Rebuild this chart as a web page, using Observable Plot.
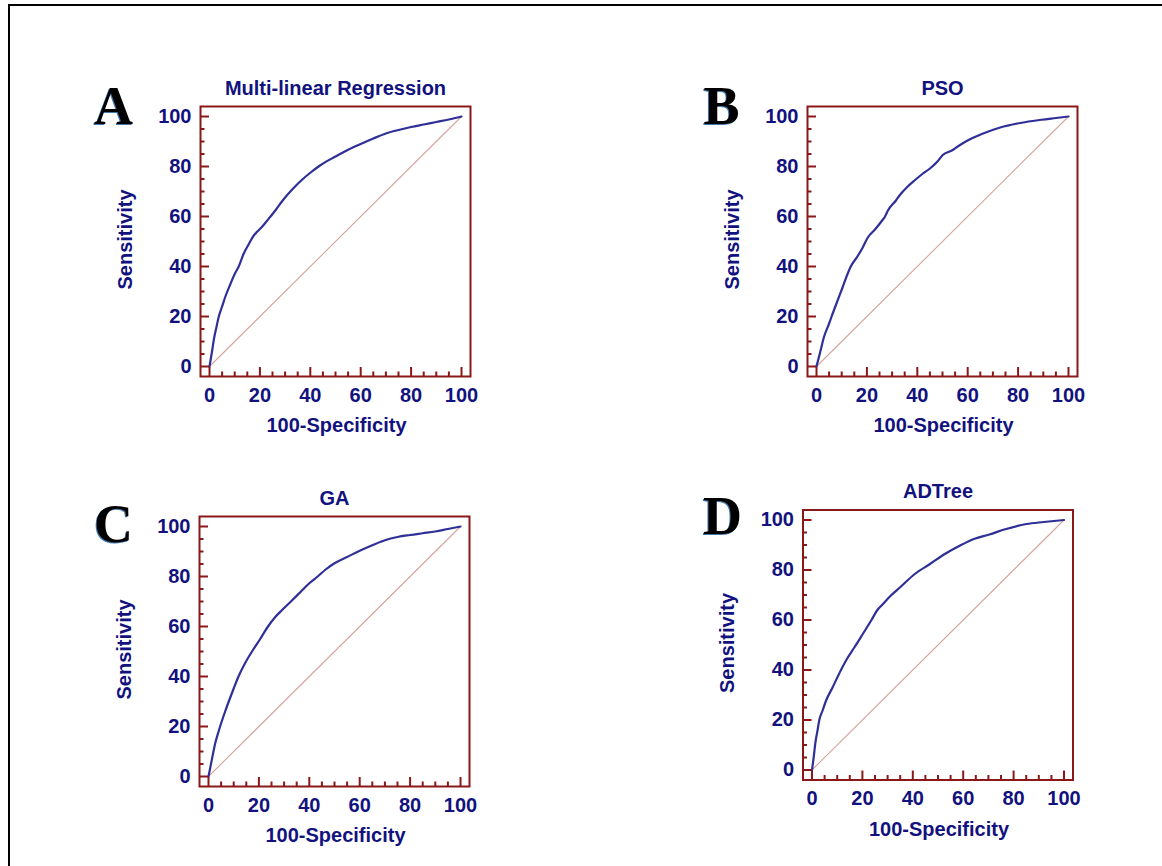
<!DOCTYPE html>
<html><head><meta charset="utf-8">
<script src="https://cdn.jsdelivr.net/npm/d3@7"></script>
<script src="https://cdn.jsdelivr.net/npm/@observablehq/plot@0.6"></script>
<style>
html,body{margin:0;padding:0;background:#fff;overflow:hidden;}
#page{position:relative;width:1162px;height:866px;overflow:hidden;}
#border{position:absolute;left:8px;top:4px;width:1200px;height:900px;border-left:2px solid #000;border-top:2px solid #000;}
.panel{position:absolute;}
</style></head><body><div id="page"><div id="border"></div></div>
<script>
// ---- data ----
const panelTitles = ["Multi-linear Regression", "PSO", "GA", "ADTree"];
const panelLetters = ["A", "B", "C", "D"];
const xLabel = "100-Specificity";
const yLabel = "Sensitivity";
const majorTicks = [0, 20, 40, 60, 80, 100];
const minorTicks = [5, 10, 15, 25, 30, 35, 45, 50, 55, 65, 70, 75, 85, 90, 95];
const diagonalX = [0, 100];
const diagonalY = [0, 100];

const mlrFpr = [0, 0.5, 1, 1.7, 2.7, 3.7, 5, 6.3, 8.3, 10, 11.6, 13.5, 15.6, 17.5, 19, 20.5, 22.2, 24.2, 26.2, 29.5, 33, 36.5, 40, 44, 50, 55, 60, 65, 70, 75, 80, 85, 90, 95, 100];
const mlrTpr = [0, 3, 6, 10.6, 15.5, 20, 24, 28, 33, 37, 40, 45, 49, 52.3, 54, 55.5, 57.5, 60, 62.5, 67, 71, 74.5, 77.5, 80.5, 84, 86.7, 89, 91.2, 93.2, 94.6, 95.8, 96.8, 97.8, 98.8, 100];

const psoFpr = [0, 1.6, 2.9, 4.9, 6.0, 8.3, 10.3, 12, 13.6, 16.3, 18.3, 20.3, 23.2, 25.6, 27.2, 28.3, 31.6, 33.1, 36, 39, 42, 44.9, 48, 50.1, 53.7, 56.5, 59.6, 65.6, 72.9, 80.3, 89.2, 95, 100];
const psoTpr = [0, 6.3, 11.6, 16.9, 20, 26.2, 31.5, 36.2, 40, 44.1, 47.5, 51.5, 54.8, 57.8, 60, 62.3, 66.5, 68.6, 71.8, 74.5, 77, 79.1, 82, 84.6, 86.4, 88.3, 90.2, 93, 95.6, 97.3, 98.7, 99.4, 100];

const gaFpr = [0, 1.3, 2.6, 4, 4.6, 6.6, 8.6, 10, 11.9, 14.6, 17.9, 20.5, 23.6, 26.5, 29.1, 33, 36.5, 40, 43.3, 46.5, 50, 55, 60, 65, 70, 75, 80, 85, 90, 95, 100];
const gaTpr = [0, 6.6, 13, 18, 20, 26, 31.5, 35.2, 40, 45.5, 51, 55, 60, 63.8, 66.5, 70.3, 73.8, 77.3, 80, 82.8, 85.3, 87.8, 90.3, 92.5, 94.5, 95.8, 96.6, 97.3, 98, 99, 100];

const adtFpr = [0, 0.7, 1.3, 2.2, 2.9, 4.2, 5.6, 8.2, 11.5, 14.2, 16.8, 20.1, 23.6, 26.1, 27.6, 31, 35, 40.9, 46.8, 52.7, 58.6, 64.5, 70.4, 76.3, 85.1, 92, 100];
const adtTpr = [0, 5.3, 10.6, 15.9, 20, 23.8, 27.8, 33.1, 40, 45, 49, 54.3, 60, 64.2, 65.8, 69.5, 73.1, 78.5, 82.4, 86.4, 89.7, 92.5, 94.2, 96.2, 98.4, 99.2, 100];

const seriesX = [mlrFpr, psoFpr, gaFpr, adtFpr];
const seriesY = [mlrTpr, psoTpr, gaTpr, adtTpr];

// ---- layout / style ----
const layout = [
  {left: 0,   top: 0,   w: 581, h: 440, fl: 200,   ft: 106,  letterDx: -87,   letterDy: 17.5},
  {left: 581, top: 0,   w: 581, h: 440, fl: 226,   ft: 106,  letterDx: -86,   letterDy: 17.5},
  {left: 0,   top: 440, w: 581, h: 426, fl: 199,   ft: 76,   letterDx: -86,   letterDy: 25},
  {left: 581, top: 440, w: 581, h: 426, fl: 221.5, ft: 69.5, letterDx: -80.5, letterDy: 23.5}
];
const FS = 270;
const maroon = "#8a1818";
const navy = "#12127e";
const curveBlue = "#2f2f98";
const diagPink = "#d6a39b";
const sans = "'Liberation Sans', Arial, sans-serif";
const serif = "'Liberation Serif', 'Times New Roman', serif";

const page = document.getElementById("page");

layout.forEach((L, i) => {
  const rows = seriesX[i].map((x, j) => ({x, y: seriesY[i][j]}));
  const diag = diagonalX.map((x, j) => ({x, y: diagonalY[j]}));
  const plot = Plot.plot({
    width: L.w,
    height: L.h,
    marginLeft: L.fl,
    marginTop: L.ft,
    marginRight: L.w - L.fl - FS,
    marginBottom: L.h - L.ft - FS,
    x: {domain: [-3.571, 103.571]},
    y: {domain: [-4, 104]},
    style: {background: "transparent", overflow: "visible", fontFamily: sans},
    marks: [
      Plot.line(diag, {x: "x", y: "y", stroke: diagPink, strokeWidth: 1.1}),
      Plot.line(rows, {x: "x", y: "y", stroke: curveBlue, strokeWidth: 2.2, strokeLinejoin: "round", curve: "monotone-x"}),
      Plot.frame({stroke: maroon, strokeWidth: 2}),
      Plot.axisY(majorTicks, {anchor: "left", tickSize: 9, dx: 9, stroke: maroon, strokeWidth: 2, fill: "none", label: null}),
      Plot.axisY(minorTicks, {anchor: "left", tickSize: 4.5, dx: 4.5, stroke: maroon, strokeWidth: 2, fill: "none", label: null}),
      Plot.axisX(majorTicks, {anchor: "bottom", tickSize: 9, dy: -9, stroke: maroon, strokeWidth: 2, fill: "none", label: null}),
      Plot.axisX(minorTicks, {anchor: "bottom", tickSize: 4.5, dy: -4.5, stroke: maroon, strokeWidth: 2, fill: "none", label: null}),
      Plot.axisY(majorTicks, {anchor: "left", tickSize: 0, tickPadding: 9, fill: navy, fontSize: 20, fontWeight: "bold", fontFamily: sans, label: null}),
      Plot.axisX(majorTicks, {anchor: "bottom", tickSize: 0, tickPadding: 11, fill: navy, fontSize: 20, fontWeight: "bold", fontFamily: sans, label: null}),
      Plot.text([panelTitles[i]], {frameAnchor: "top", dy: -12, lineAnchor: "bottom", fill: navy, fontSize: 20, fontWeight: "bold", fontFamily: sans}),
      Plot.text([xLabel], {frameAnchor: "bottom", dy: 55.7, dx: 1, lineAnchor: "bottom", fill: navy, fontSize: 20, fontWeight: "bold", fontFamily: sans}),
      Plot.text([yLabel], {frameAnchor: "left", dx: -69, dy: -2, rotate: -90, lineAnchor: "bottom", textAnchor: "middle", fill: navy, fontSize: 20, fontWeight: "bold", fontFamily: sans}),
      Plot.text([panelLetters[i]], {frameAnchor: "top-left", dx: L.letterDx - 1, dy: L.letterDy + 1, lineAnchor: "bottom", textAnchor: "middle", fill: "#3f78b0", fontSize: 54, fontWeight: "bold", fontFamily: serif}),
      Plot.text([panelLetters[i]], {frameAnchor: "top-left", dx: L.letterDx, dy: L.letterDy, lineAnchor: "bottom", textAnchor: "middle", fill: "#000", fontSize: 54, fontWeight: "bold", fontFamily: serif})
    ]
  });
  plot.classList.add("panel");
  plot.style.left = L.left + "px";
  plot.style.top = L.top + "px";
  page.appendChild(plot);
});
</script>
</body></html>
